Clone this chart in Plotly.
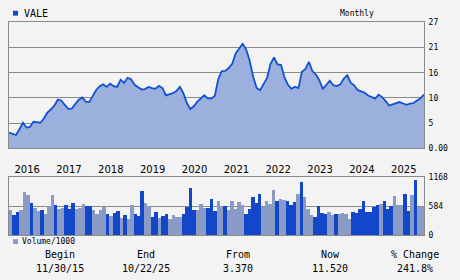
import plotly.graph_objects as go

W, H = 460, 280

# ---- data ----
months = list(range(120))  # Nov 2015 .. Oct 2025
price = [3.37, 3.05, 2.84, 4.08, 5.47, 4.43, 4.57, 5.68, 5.61, 5.47,
         6.37, 7.62, 8.30, 9.14, 10.45, 10.25, 9.28, 8.45, 8.50, 9.40,
         10.40, 10.90, 10.00, 9.90, 11.10, 12.50, 13.30, 13.70, 13.15, 13.85,
         13.30, 13.15, 14.70, 14.00, 15.10, 14.80, 13.60, 13.15, 12.60, 12.70,
         13.15, 12.90, 12.75, 13.40, 12.90, 11.35, 11.55, 11.80, 12.25, 13.15,
         11.80, 9.70, 8.40, 9.00, 10.00, 10.70, 11.35, 10.70, 10.65, 11.20,
         14.80, 16.55, 16.60, 17.20, 18.10, 20.35, 21.50, 22.40, 21.20, 18.80,
         15.40, 12.95, 12.45, 13.70, 15.10, 18.10, 19.50, 18.00, 17.90, 15.20,
         13.60, 12.75, 13.20, 12.90, 16.40, 17.00, 18.55, 16.55, 15.80, 14.55,
         12.75, 13.60, 14.50, 13.50, 13.35, 13.70, 14.95, 15.65, 14.00, 13.50,
         12.45, 12.20, 11.90, 11.30, 10.95, 10.65, 11.50, 10.95, 10.10, 9.15,
         9.40, 9.60, 9.90, 9.60, 9.30, 9.55, 9.70, 10.25, 10.70, 11.52]
volume = [509, 411, 470, 509, 861, 803, 646, 548, 489, 509,
          431, 587, 803, 607, 529, 548, 607, 529, 646, 529,
          548, 626, 587, 587, 509, 431, 509, 568, 431, 392,
          450, 489, 352, 411, 333, 607, 431, 392, 881, 646,
          590, 372, 470, 352, 392, 431, 333, 411, 372, 372,
          431, 568, 940, 509, 509, 626, 548, 548, 724, 489,
          685, 587, 587, 509, 685, 529, 666, 607, 431, 529,
          763, 646, 822, 568, 685, 626, 900, 685, 724, 700,
          685, 607, 665, 822, 1077, 763, 529, 411, 372, 587,
          450, 431, 470, 411, 431, 431, 450, 431, 333, 470,
          450, 529, 685, 470, 470, 568, 607, 626, 685, 529,
          587, 783, 607, 607, 822, 489, 803, 1116, 568, 568]
# d = dark bar, l = light bar
vol_kind = ("lddllldlld" "llldlldddl" "llddlllldl" "ddldlldddl"
            "lddlddllll" "ddddlllddd" "lldllllldd" "dddlllldll"
            "dddldllldd" "ddlldlllld" "dddddddldd" "dlllddldll")
years = list(range(2016, 2026))
year_pos = [2 + 12 * (y - 2016) + 3.2 for y in years]
year_txt = [str(y) for y in years]
price_ticks = [0, 5.4, 10.8, 16.2, 21.6, 27]
price_tick_txt = ["0.00", "5", "10", "16", "21", "27"]
vol_ticks = [0, 584, 1168]
vol_tick_txt = ["0", "584", "1168"]
footer_heads = ["Begin", "End", "From", "Now", "% Change"]
footer_vals = ["11/30/15", "10/22/25", "3.370", "11.520", "241.8%"]
footer_x = [60, 146, 238, 330, 415]

# ---- styles ----
BG = "#F3F3F3"
GRID = "#8A8A8A"
DARK = "#1147C8"
LIGHT = "#8A9BC6"
FILL = "#9CB0DE"
LINE = "#1450D2"
MONO = "DejaVu Sans Mono"

def px(x):
    return x / W

def py(y):
    return 1 - y / H

fig = go.Figure()
fig.add_trace(go.Scatter(x=months, y=price, mode="lines", fill="tozeroy",
                         fillcolor=FILL, line=dict(color=LINE, width=1.8),
                         xaxis="x", yaxis="y", showlegend=False, hoverinfo="skip"))
fig.add_trace(go.Bar(x=months, y=volume,
                     marker=dict(color=[DARK if k == "d" else LIGHT for k in vol_kind],
                                 line=dict(width=0)),
                     xaxis="x2", yaxis="y2", showlegend=False, hoverinfo="skip"))

xdom = [px(9), px(424)]
axis_common = dict(showline=True, linecolor=GRID, linewidth=1, mirror=True, zeroline=False)
fig.update_layout(
    width=W, height=H, margin=dict(l=0, r=0, t=0, b=0),
    paper_bgcolor=BG, plot_bgcolor=BG, bargap=0,
    xaxis=dict(domain=xdom, range=[0, 119], anchor="y", tickvals=year_pos, ticktext=year_txt,
               ticks="outside", ticklen=12, tickcolor="rgba(0,0,0,0)", showgrid=False,
               tickfont=dict(family="DejaVu Sans", size=10, color="#000"), **axis_common),
    yaxis=dict(domain=[py(149), py(19)], range=[0, 27], side="right", anchor="x",
               tickvals=price_ticks, ticktext=price_tick_txt, showgrid=True, gridcolor=GRID,
               gridwidth=1, ticks="outside", ticklen=2, tickcolor="rgba(0,0,0,0)",
               tickfont=dict(family=MONO, size=8, color="#000"), **axis_common),
    xaxis2=dict(domain=xdom, range=[-0.5, 119.5], anchor="y2", showticklabels=False,
                showgrid=False, ticks="", **axis_common),
    yaxis2=dict(domain=[py(239), py(179)], range=[0, 1168], side="right", anchor="x2",
                tickvals=vol_ticks, ticktext=vol_tick_txt, showgrid=True, gridcolor=GRID,
                gridwidth=1, ticks="outside", ticklen=2, tickcolor="rgba(0,0,0,0)",
                tickfont=dict(family=MONO, size=8, color="#000"), **axis_common),
)

ann = []
shapes = []
# legend: price
shapes.append(dict(type="rect", xref="paper", yref="paper", x0=px(13), x1=px(18),
                   y0=py(12), y1=py(7), fillcolor=DARK, line=dict(width=0)))
ann.append(dict(text="VALE", x=px(22), y=py(9.5), xref="paper", yref="paper",
                xanchor="left", yanchor="middle", showarrow=False,
                font=dict(family=MONO, size=10, color="#000")))
ann.append(dict(text="Monthly", x=px(357), y=py(9.5), xref="paper", yref="paper",
                xanchor="center", yanchor="middle", showarrow=False,
                font=dict(family=MONO, size=8, color="#000")))
# legend: volume
shapes.append(dict(type="rect", xref="paper", yref="paper", x0=px(13), x1=px(18),
                   y0=py(248), y1=py(243), fillcolor=LIGHT, line=dict(width=0)))
ann.append(dict(text="Volume/1000", x=px(20), y=py(245.5), xref="paper", yref="paper",
                xanchor="left", yanchor="middle", showarrow=False,
                font=dict(family=MONO, size=8, color="#000")))
for h, v, x in zip(footer_heads, footer_vals, footer_x):
    ann.append(dict(text=h, x=px(x), y=py(259), xref="paper", yref="paper",
                    xanchor="center", yanchor="middle", showarrow=False,
                    font=dict(family=MONO, size=10, color="#000")))
    ann.append(dict(text=v, x=px(x), y=py(273), xref="paper", yref="paper",
                    xanchor="center", yanchor="middle", showarrow=False,
                    font=dict(family=MONO, size=10, color="#000")))
fig.update_layout(annotations=ann, shapes=shapes)

fig.write_html("out.html")
